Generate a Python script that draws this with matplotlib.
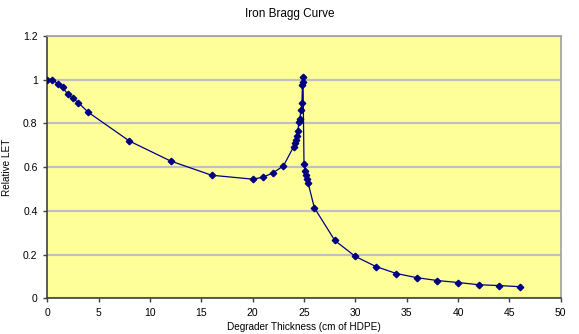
import matplotlib
matplotlib.use('Agg')
import matplotlib.pyplot as plt

plt.rcParams['font.family'] = ['Liberation Sans', 'DejaVu Sans']

# degrader thickness (cm of HDPE) and relative LET
thickness = [0, 0.5, 1, 1.5, 2, 2.5, 3, 4, 8, 12, 16, 20, 21, 22, 23,
             24.0, 24.1, 24.2, 24.3, 24.4, 24.5, 24.6, 24.7, 24.8, 24.85, 24.87, 24.9,
             25.0, 25.1, 25.2, 25.3, 25.4,
             26, 28, 30, 32, 34, 36, 38, 40, 42, 44, 46]
rel_let = [1.0, 1.0, 0.981, 0.964, 0.932, 0.914, 0.895, 0.85, 0.719, 0.628, 0.563, 0.545, 0.554, 0.574, 0.606,
           0.694, 0.709, 0.724, 0.742, 0.765, 0.804, 0.822, 0.861, 0.895, 0.975, 0.987, 1.01,
           0.615, 0.582, 0.562, 0.547, 0.528,
           0.415, 0.265, 0.192, 0.146, 0.114, 0.095, 0.082, 0.073, 0.063, 0.059, 0.054]

fig = plt.figure(figsize=(5.79, 3.34), dpi=100)
ax = fig.add_axes([0.0817, 0.1063, 0.8867, 0.7867])
ax.set_facecolor('#FFFF99')

ax.plot(thickness, rel_let, color='#000080', linewidth=0.9, marker='D',
        markersize=3.3, markerfacecolor='#000080', markeredgecolor='#000080', zorder=3)

ax.set_xlim(0, 50)
ax.set_ylim(0, 1.2)
ax.set_xticks(range(0, 51, 5))
ax.set_yticks([0, 0.2, 0.4, 0.6, 0.8, 1, 1.2])
ax.set_yticklabels(['0', '0.2', '0.4', '0.6', '0.8', '1', '1.2'])
ax.yaxis.grid(True, color='#C0C0C0', linewidth=1.6)
ax.set_axisbelow(True)

for s in ['left', 'bottom']:
    ax.spines[s].set_color('#404040')
    ax.spines[s].set_linewidth(1.2)
for s in ['top', 'right']:
    ax.spines[s].set_color('#A0A0A0')
    ax.spines[s].set_linewidth(1.2)

ax.tick_params(axis='both', labelsize=7.5, length=3, width=1, color='#404040', pad=4)

ax.set_xlabel('Degrader Thickness (cm of HDPE)', fontsize=7.2, labelpad=3)
ax.set_ylabel('Relative LET', fontsize=7.2, labelpad=8)
fig.text(0.5, 0.958, 'Iron Bragg Curve', ha='center', va='center', fontsize=8.5)

plt.savefig('out.png', dpi=100)
